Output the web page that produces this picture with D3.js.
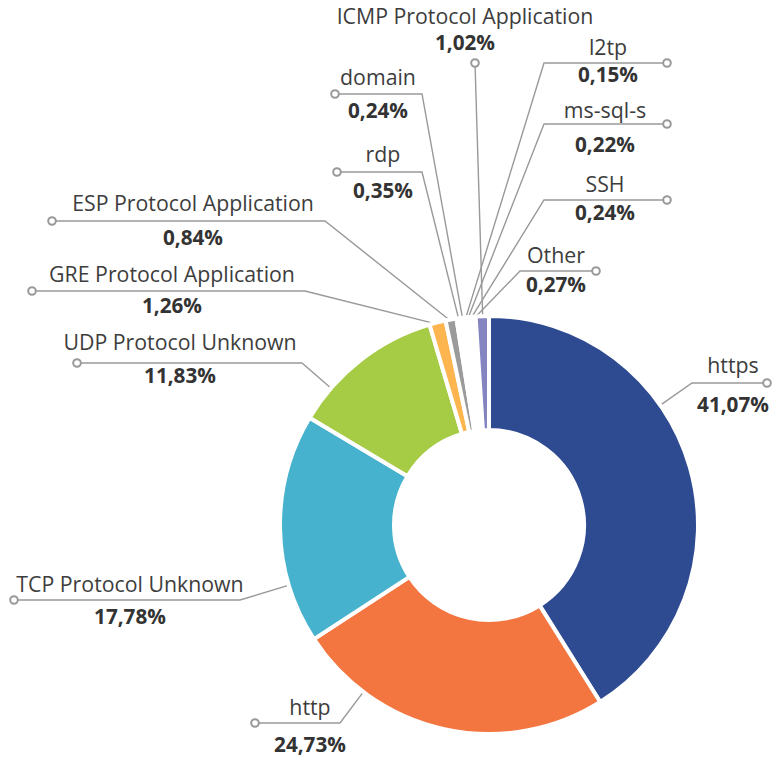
<!DOCTYPE html>
<html>
<head>
<meta charset="utf-8">
<script src="https://cdn.jsdelivr.net/npm/d3@7"></script>
<style>
  html, body { margin: 0; padding: 0; background: #ffffff; }
  svg { display: block; font-family: "Open Sans", "Noto Sans", sans-serif; }
  .name { font-size: 21.3px; fill: #3d3d3d; }
  .value { font-size: 20.7px; font-weight: 700; fill: #333333; }
</style>
</head>
<body>
<svg id="chart" width="773" height="761"></svg>
<script>
// Traffic share by application, clockwise from 12 o'clock
const categories = ["https", "http", "TCP Protocol Unknown", "UDP Protocol Unknown",
  "GRE Protocol Application", "ESP Protocol Application", "rdp", "domain",
  "l2tp", "ms-sql-s", "SSH", "Other", "ICMP Protocol Application"];
const shares = [41.07, 24.73, 17.78, 11.83, 1.26, 0.84, 0.35, 0.24, 0.15, 0.22, 0.24, 0.27, 1.02];
const sliceColors = ["#2e4a91", "#f37641", "#46b2cd", "#a6cc46", "#fdb54f", "#9b9b9b",
  "#ffffff", "#ffffff", "#ffffff", "#ffffff", "#ffffff", "#ffffff", "#8384c0"];

// Callout placement: text centre, leader elbow and end-dot, text baselines
const callouts = [
  { key: "https", tx: 733, lineY: 383, elbow: 692, dot: 767, nameY: 373, valueY: 412 },
  { key: "http", tx: 310, lineY: 723, elbow: 340, dot: 255, nameY: 715, valueY: 752 },
  { key: "TCP Protocol Unknown", tx: 130, lineY: 600, elbow: 240, dot: 14, nameY: 592, valueY: 624 },
  { key: "UDP Protocol Unknown", tx: 180, lineY: 363, elbow: 302, dot: 77, nameY: 350, valueY: 383 },
  { key: "GRE Protocol Application", tx: 172, lineY: 291, elbow: 305, dot: 32, nameY: 282, valueY: 313 },
  { key: "ESP Protocol Application", tx: 193, lineY: 221, elbow: 325, dot: 52, nameY: 211, valueY: 245 },
  { key: "rdp", tx: 383, lineY: 172, elbow: 422, dot: 337, nameY: 162, valueY: 198 },
  { key: "domain", tx: 378, lineY: 94, elbow: 422, dot: 335, nameY: 85, valueY: 118 },
  { key: "ICMP Protocol Application", tx: 465, lineY: 63, elbow: 475, dot: 475, nameY: 24, valueY: 50 },
  { key: "l2tp", tx: 608, lineY: 63, elbow: 544, dot: 667, nameY: 55, valueY: 82 },
  { key: "ms-sql-s", tx: 605, lineY: 124, elbow: 544, dot: 667, nameY: 118, valueY: 152 },
  { key: "SSH", tx: 605, lineY: 200, elbow: 544, dot: 667, nameY: 192, valueY: 220 },
  { key: "Other", tx: 556, lineY: 271, elbow: 520, dot: 596, nameY: 263, valueY: 292 }
];

const cx = 489, cy = 525, outerR = 209, innerR = 95;
const svg = d3.select("#chart");

const data = categories.map((c, i) => ({ name: c, value: shares[i], color: sliceColors[i] }));
const pie = d3.pie().value(d => d.value).sort(null);
const arcs = pie(data);
const arc = d3.arc().innerRadius(innerR).outerRadius(outerR);

const fmt = v => d3.format(".2f")(v).replace(".", ",") + "%";
const byName = new Map(arcs.map(a => [a.data.name, a]));

// Leader lines sit beneath the ring
const lines = svg.append("g").attr("fill", "none").attr("stroke", "#999999").attr("stroke-width", 1.4);
const edgeR = outerR - 2;

callouts.forEach(c => {
  const a = byName.get(c.key);
  // angle of the elbow as seen from the centre
  const elbowAng = Math.atan2(c.elbow - cx, -(c.lineY - cy));
  let ang = elbowAng < 0 ? elbowAng + 2 * Math.PI : elbowAng;
  if (ang < a.startAngle || ang > a.endAngle) ang = (a.startAngle + a.endAngle) / 2;
  const ax = cx + edgeR * Math.sin(ang), ay = cy - edgeR * Math.cos(ang);
  lines.append("path")
    .attr("d", `M${ax},${ay}L${c.elbow},${c.lineY}L${c.dot},${c.lineY}`);
});

// Ring
svg.append("g").attr("transform", `translate(${cx},${cy})`)
  .selectAll("path").data(arcs).join("path")
  .attr("d", arc)
  .attr("fill", d => d.data.color)
  .attr("stroke", "#ffffff")
  .attr("stroke-width", 4)
  .attr("stroke-linejoin", "round");

// End dots and texts
const labels = svg.append("g");
callouts.forEach(c => {
  const a = byName.get(c.key);
  labels.append("circle")
    .attr("cx", c.dot).attr("cy", c.lineY).attr("r", 3.8)
    .attr("fill", "#ffffff").attr("stroke", "#999999").attr("stroke-width", 2);
  labels.append("text").attr("class", "name")
    .attr("x", c.tx).attr("y", c.nameY).attr("text-anchor", "middle")
    .text(a.data.name);
  labels.append("text").attr("class", "value")
    .attr("x", c.tx).attr("y", c.valueY).attr("text-anchor", "middle")
    .text(fmt(a.data.value));
});
</script>
</body>
</html>
